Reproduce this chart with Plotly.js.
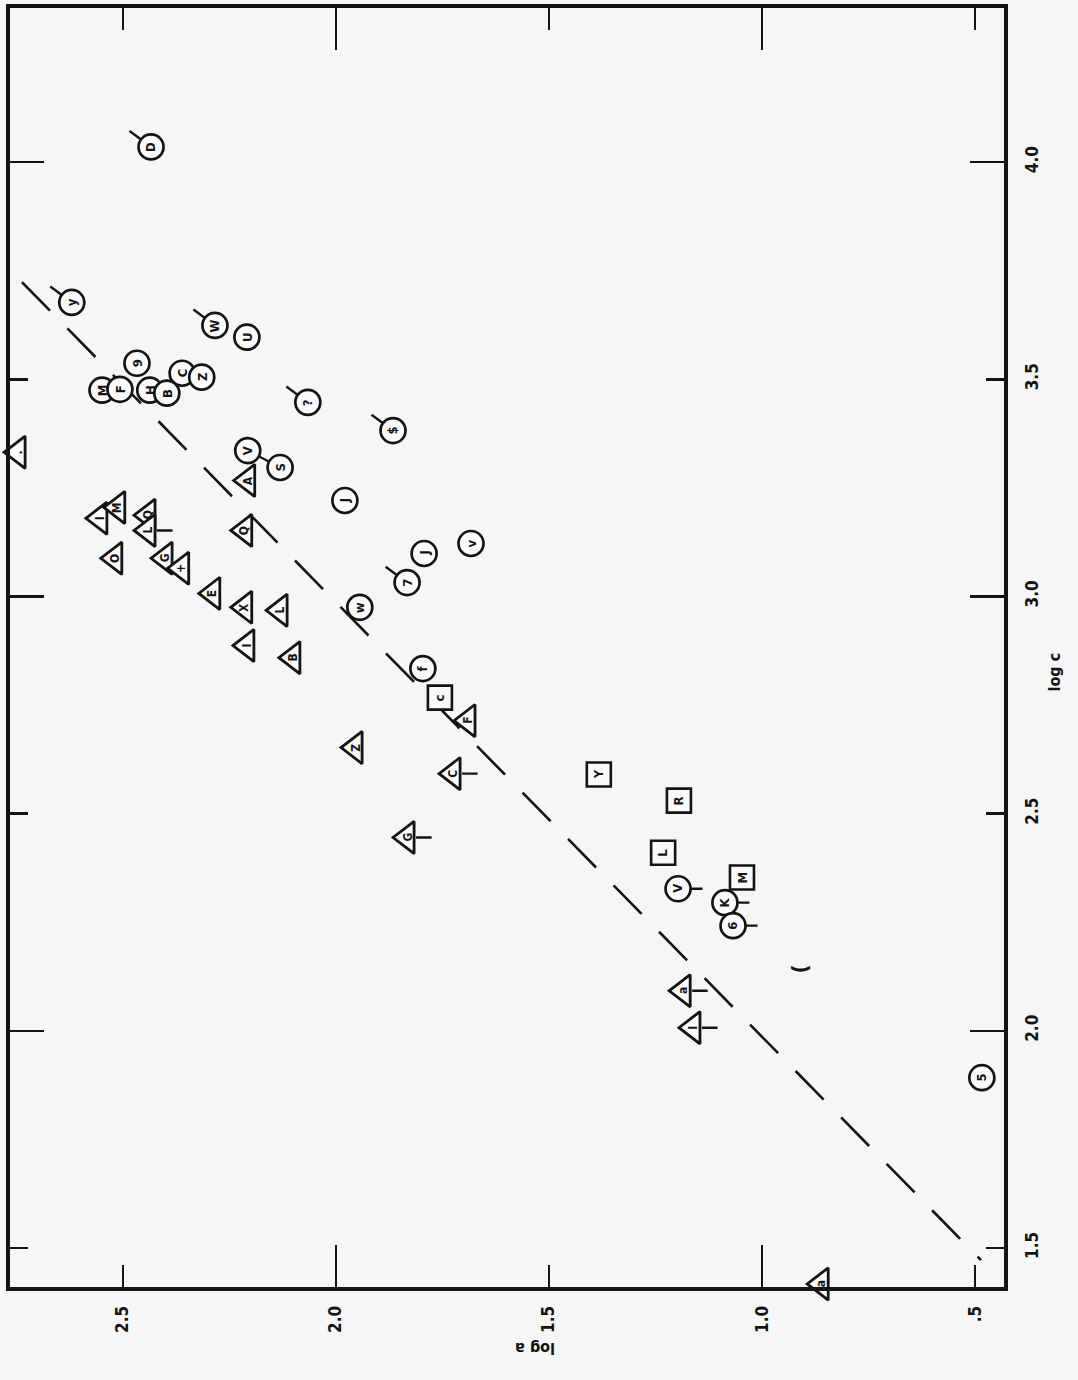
<!DOCTYPE html>
<html><head><meta charset="utf-8">
<script src="https://cdn.plot.ly/plotly-3.0.1.min.js"></script>
<style>html,body{margin:0;padding:0;background:#f6f6f6}#chart{width:1078px;height:1380px}</style>
</head><body><div id="chart"></div>
<script>
// horizontal axis: log a (decreasing to the right); vertical axis: log c
const aTicks = [2.5, 2.0, 1.5, 1.0, 0.5];
const aTickText = ["2.5", "2.0", "1.5", "1.0", ".5"];
const aMajor = [2.0, 1.0];
const cTicks = [1.5, 2.0, 2.5, 3.0, 3.5, 4.0];
const cTickText = ["1.5", "2.0", "2.5", "3.0", "3.5", "4.0"];
const cMajor = [2.0, 3.0, 4.0];

// circles
const circA = [2.434, 2.620, 2.284, 2.209, 2.467, 2.549, 2.507, 2.437, 2.397, 2.361, 2.315, 2.066, 1.866, 2.207, 2.131, 1.979, 1.793, 1.683, 1.833, 1.944, 1.796, 1.197, 1.087, 1.068, 0.484];
const circC = [4.035, 3.677, 3.624, 3.597, 3.537, 3.475, 3.477, 3.475, 3.468, 3.514, 3.505, 3.447, 3.382, 3.336, 3.297, 3.221, 3.099, 3.122, 3.032, 2.975, 2.834, 2.327, 2.295, 2.242, 1.892];
const circLbl = ["D", "y", "W", "U", "9", "M", "F", "H", "B", "C", "Z", "?", "$", "V", "S", "J", "J", "v", "7", "w", "f", "V", "K", "6", "5"];
const circTail = ["ul", "ul", "ul", "", "", "", "", "", "", "", "", "ul", "ul", "", "", "", "", "", "ul", "", "", "r", "r", "r", ""];

// linked pair of circles (V - S)
const pairA = [2.207, 2.131];
const pairC = [3.336, 3.297];

// squares
const sqA = [1.756, 1.383, 1.195, 1.232, 1.047];
const sqC = [2.767, 2.590, 2.530, 2.410, 2.353];
const sqLbl = ["c", "Y", "R", "L", "M"];

// triangles
const triA = [2.746, 2.207, 2.554, 2.512, 2.441, 2.441, 2.214, 2.519, 2.401, 2.362, 2.289, 2.214, 2.131, 2.209, 2.101, 1.955, 1.690, 1.725, 1.833, 1.185, 1.162, 0.861];
const triC = [3.332, 3.267, 3.180, 3.205, 3.187, 3.152, 3.152, 3.088, 3.088, 3.065, 3.007, 2.975, 2.968, 2.887, 2.859, 2.652, 2.714, 2.592, 2.445, 2.092, 2.007, 1.417];
const triLbl = [".", "A", "I", "M", "Q", "L", "Q", "O", "G", "+", "E", "X", "L", "I", "B", "Z", "F", "C", "G", "a", "I", "a"];
const triTail = ["", "", "", "", "", "r", "", "", "", "", "", "", "", "", "", "", "", "r", "r", "r", "r", ""];

// stray mark
const markA = [0.911];
const markC = [2.143];
const markLbl = ["("];

// dashed reference line (end points)
const fitA = [2.737, 0.486];
const fitC = [3.724, 1.472];

const INK = '#141414';
const FONT = 'Liberation Sans Narrow, DejaVu Sans Condensed, Liberation Sans, Arial, sans-serif';
const xr = [2.765, 0.432];
const yr = [1.41, 4.355];

const traces = [
  {x: fitA, y: fitC, mode: 'lines', line: {color: INK, width: 2.6, dash: '40px,25px'}, hoverinfo: 'skip'},
  {x: pairA, y: pairC, mode: 'lines', line: {color: INK, width: 2.2}, hoverinfo: 'skip'},
  {x: circA, y: circC, mode: 'markers', cliponaxis: false,
   marker: {symbol: 'circle', size: 25, color: '#fafafa', line: {color: INK, width: 2.7}}},
  {x: sqA, y: sqC, mode: 'markers', cliponaxis: false,
   marker: {symbol: 'square', size: 24, color: '#fafafa', line: {color: INK, width: 2.6}}},
  {x: triA, y: triC, mode: 'markers', cliponaxis: false,
   marker: {symbol: 'triangle-left', size: 28, color: '#fafafa', line: {color: INK, width: 2.8}}},
  {x: [xr[0]], y: [yr[0]], xaxis: 'x2', yaxis: 'y2', mode: 'markers', marker: {size: 1, opacity: 0}, hoverinfo: 'skip'}
];

const ann = [];
function letters(A, C, L, size) {
  for (let i = 0; i < A.length; i++) {
    ann.push({x: A[i], y: C[i], xref: 'x', yref: 'y', text: '<b>' + L[i] + '</b>', showarrow: false,
      textangle: -90, font: {family: FONT, size: size, color: INK}});
  }
}
function tails(A, C, T, soUL, soR) {
  for (let i = 0; i < A.length; i++) {
    if (!T[i]) continue;
    const ul = T[i] === 'ul';
    ann.push({x: A[i], y: C[i], xref: 'x', yref: 'y', text: '', showarrow: true, arrowhead: 0,
      arrowwidth: 2.4, arrowcolor: INK, ax: ul ? -23 : 26, ay: ul ? -17 : 0, standoff: ul ? soUL : soR});
  }
}
tails(circA, circC, circTail, 12, 12);
tails(triA, triC, triTail, 8, 9);
letters(circA, circC, circLbl, 13);
letters(sqA, sqC, sqLbl, 13);
letters(triA, triC, triLbl, 12);
for (let i = 0; i < markA.length; i++) {
  ann.push({x: markA[i], y: markC[i], xref: 'x', yref: 'y', text: '<b>' + markLbl[i] + '</b>', showarrow: false,
    textangle: -90, font: {family: FONT, size: 22, color: INK}});
}
// axis titles
ann.push({x: 1066, y: 672, xref: 'paper', yref: 'paper', text: '<b>log c</b>', showarrow: false,
  textangle: -90, font: {family: FONT, size: 16, color: INK}});
ann.push({x: 535, y: 1360, xref: 'paper', yref: 'paper', text: '<b>log a</b>', showarrow: false,
  textangle: 180, font: {family: FONT, size: 16, color: INK}});

// convert pixel positions of titles to paper coords
const L = 10, R = 74, T = 8, B = 93, W = 1078, H = 1380;
const pw = W - L - R, ph = H - T - B;
ann.forEach(a => {
  if (a.xref === 'paper') {
    a.x = (a.x - L) / pw;
    a.y = (H - B - a.y) / ph;
  }
});

const tickFont = {family: FONT, size: 17, color: INK, weight: 700};
const layout = {
  width: W, height: H,
  margin: {l: L, r: R, t: T, b: B},
  paper_bgcolor: '#f6f6f6', plot_bgcolor: '#f6f6f6',
  showlegend: false,
  xaxis: {range: xr, tickmode: 'array', tickvals: aTicks, ticktext: aTickText, ticks: 'inside', ticklen: 22,
    tickwidth: 2.4, tickcolor: INK, showline: true, linewidth: 4, linecolor: INK, mirror: 'allticks',
    showgrid: false, zeroline: false, tickangle: -90, tickfont: tickFont, ticklabelstandoff: 8},
  yaxis: {range: yr, side: 'right', tickmode: 'array', tickvals: cTicks, ticktext: cTickText, ticks: 'inside', ticklen: 18,
    tickwidth: 2.4, tickcolor: INK, showline: true, linewidth: 4, linecolor: INK, mirror: 'allticks',
    showgrid: false, zeroline: false, tickangle: -90, tickfont: tickFont, ticklabelstandoff: 10},
  xaxis2: {overlaying: 'x', anchor: 'y2', range: xr, tickmode: 'array', tickvals: aMajor, ticks: 'inside', ticklen: 42,
    tickwidth: 2.4, tickcolor: INK, showline: true, linewidth: 4, linecolor: INK, mirror: 'allticks',
    showticklabels: false, showgrid: false, zeroline: false},
  yaxis2: {overlaying: 'y', anchor: 'x2', side: 'right', range: yr, tickmode: 'array', tickvals: cMajor, ticks: 'inside', ticklen: 34,
    tickwidth: 2.4, tickcolor: INK, showline: true, linewidth: 4, linecolor: INK, mirror: 'allticks',
    showticklabels: false, showgrid: false, zeroline: false},
  annotations: ann
};
Plotly.newPlot('chart', traces, layout, {staticPlot: true, displayModeBar: false});
</script></body></html>
